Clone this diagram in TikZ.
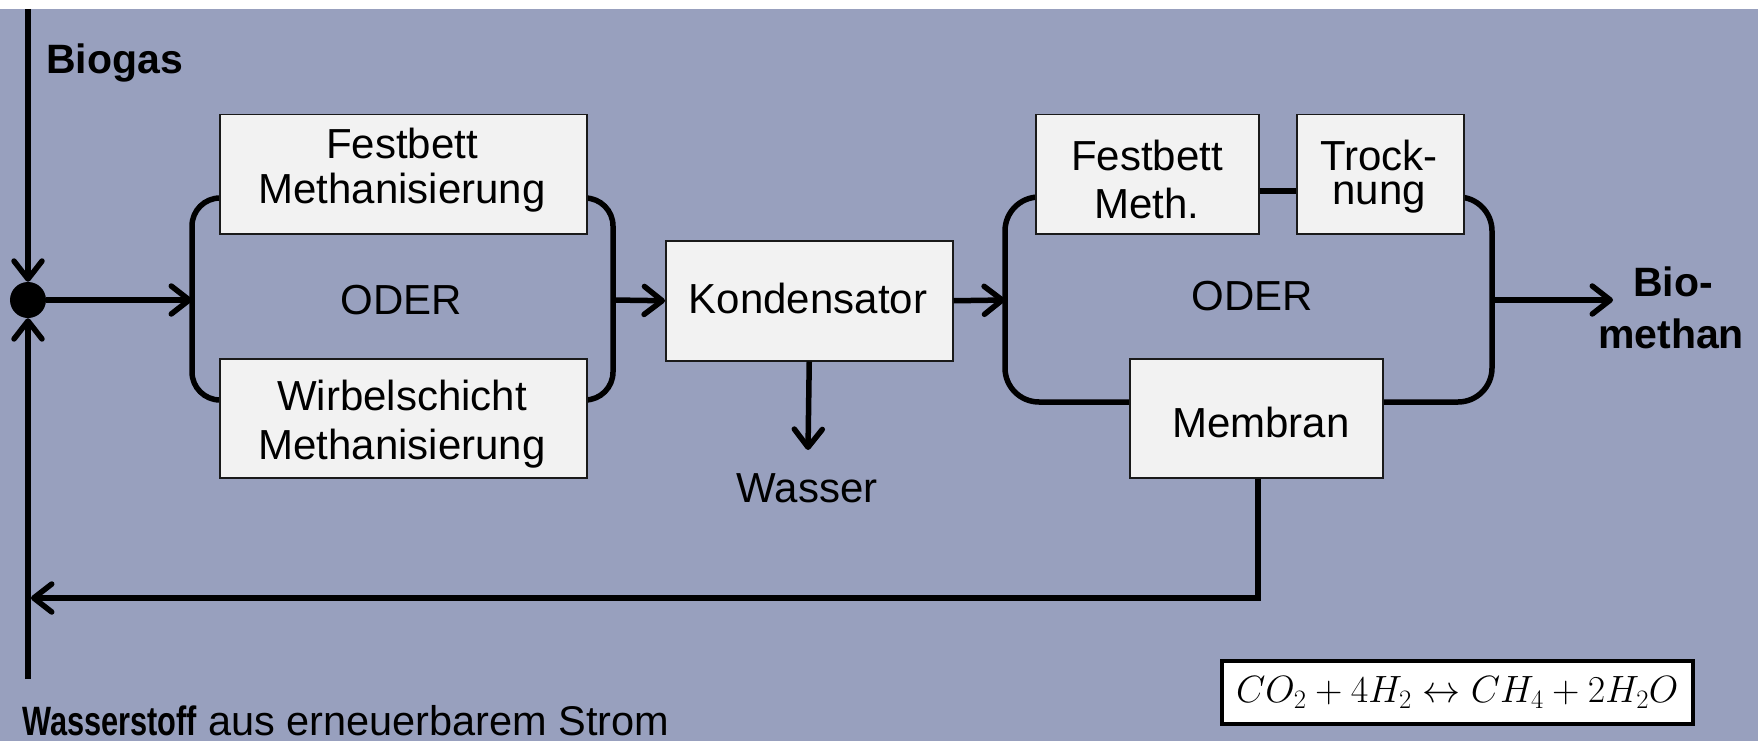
\documentclass[tikz,border=0pt]{standalone}
\usepackage{fix-cm}
\usepackage{fontspec}
\setmainfont{Liberation Sans}
\usetikzlibrary{arrows.meta}
\definecolor{bg}{HTML}{98A0BE}
\definecolor{boxfill}{HTML}{F2F2F2}
\definecolor{boxline}{HTML}{1A1A1A}
\begin{document}
\begin{tikzpicture}[x=1pt,y=-1pt,
  box/.style={draw=boxline,line width=1.5pt,fill=boxfill,inner sep=0pt,anchor=north west},
  lbl/.style={inner sep=0pt,anchor=base,font=\fontsize{42}{45}\selectfont},
  blbl/.style={inner sep=0pt,anchor=base,font=\bfseries\fontsize{41}{48}\selectfont},
  flow/.style={line width=5.5pt,draw=black},
  arr/.style={flow,-{Straight Barb[length=18pt,width=28pt,round]}},
  bracket/.style={flow,rounded corners=28pt}]
\useasboundingbox (0,0) rectangle (1758,741);
\fill[bg] (0,9) rectangle (1758,741);

% brackets
\draw[bracket] (226,198) -- (192,198) -- (192,400) -- (226,400);
\draw[bracket] (579,198) -- (613,198) -- (613,400) -- (579,400);
\draw[flow,rounded corners=34pt] (1042,197) -- (1005,197) -- (1005,402) -- (1492,402) -- (1492,197) -- (1456,197);

% boxes
\node[box,minimum width=367pt,minimum height=119pt] (fb) at (219,114) {};
\node[box,minimum width=367pt,minimum height=119pt] (ws) at (219,358) {};
\node[box,minimum width=287pt,minimum height=120pt] (kd) at (665,240) {};
\node[box,minimum width=223pt,minimum height=119pt] (fm) at (1035,114) {};
\node[box,minimum width=167pt,minimum height=119pt] (tr) at (1296,114) {};
\node[box,minimum width=253pt,minimum height=119pt] (mem) at (1129,358) {};
\node[draw=black,line width=3.5pt,fill=white,inner sep=0pt,anchor=north west,
      minimum width=471pt,minimum height=63pt,font=\fontsize{38}{40}\selectfont] (eq) at (1220,659)
      {$CO_2+4H_2\leftrightarrow CH_4+2H_2O$};

% junction and connectors
\coordinate (top) at (28,9);
\coordinate (bot) at (28,679);
\node[circle,fill=black,minimum size=36pt,inner sep=0pt] (dot) at (28,300) {};
\draw[arr] (top) -- (dot.north);
\draw[arr] (bot) -- (dot.south);
\coordinate (lbin) at (192,300);
\draw[arr] (dot.east) -- (lbin);
\coordinate (lbout) at (613,300);
\draw[arr] (lbout) -- (kd.west);
\coordinate (rbin) at (1005,300);
\draw[arr] (kd.east) -- (rbin);
\coordinate (rbout) at (1492,300);
\coordinate (bmtip) at (1613,300);
\draw[arr] (rbout) -- (bmtip);
\coordinate (wtip) at (808,450);
\draw[arr] (kd.south) -- (wtip);
\coordinate (fbend) at (31,598);
\draw[arr] ([xshift=1.5pt]mem.south) |- (fbend);
\draw[flow] ([yshift=-16.5pt]fm.east) -- ([yshift=-16.5pt]tr.west);

% texts
\node[blbl,anchor=base west] (biogas) at (46,74) {Biogas};
\node[lbl] (fb1) at (402,158) {Festbett};
\node[lbl] (fb2) at (402,203) {Methanisierung};
\node[lbl] (ws1) at (402,410) {Wirbelschicht};
\node[lbl] (ws2) at (402,459) {Methanisierung};
\node[lbl] (oder1) at (401,314) {ODER};
\node[lbl] (kdt) at (808,313) {Kondensator};
\node[lbl] (wasser) at (807,502) {Wasser};
\node[lbl] (oder2) at (1252,310) {ODER};
\node[lbl] (fm1) at (1147,170) {Festbett};
\node[lbl] (fm2) at (1147,218) {Meth.};
\node[lbl] (tr1) at (1379,170) {Trock-};
\node[lbl] (tr2) at (1379,204) {nung};
\node[lbl] (memt) at (1261,437) {Membran};
\node[blbl] (bm1) at (1673,296) {Bio-};
\node[blbl] (bm2) at (1671,348) {methan};
\node[blbl,anchor=base west,xscale=0.75,transform shape] (h2a) at (22,735) {Wasserstoff};
\node[inner sep=0pt,anchor=base west,font=\fontsize{41.5}{44}\selectfont] (h2b) at (208,735)
     {aus erneuerbarem Strom};
\end{tikzpicture}
\end{document}
